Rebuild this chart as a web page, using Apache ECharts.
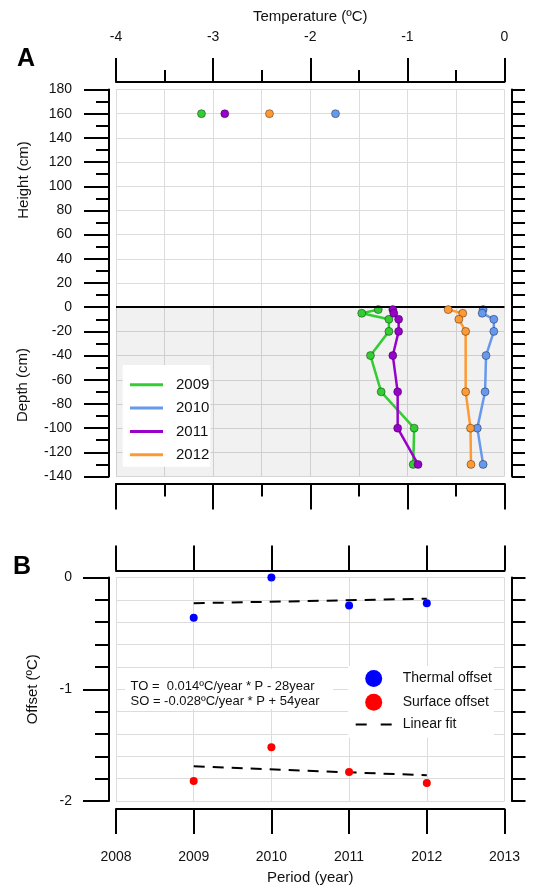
<!DOCTYPE html>
<html><head><meta charset="utf-8">
<script src="https://cdn.jsdelivr.net/npm/echarts@6/dist/echarts.min.js"></script>
<style>html,body{margin:0;padding:0;background:#fff}#c{width:536px;height:886px}</style>
</head><body><div id="c"></div>
<script>
// ---- Panel A data: temperature profiles ----
const seriesNames = ['2009', '2010', '2011', '2012'];
const depths = [-2, -5, -10, -20, -40, -70, -100, -130];
const depths2012 = [-2, -5, -10, -20, -70, -100, -130];
const temp2009 = [-1.30, -1.47, -1.19, -1.19, -1.38, -1.27, -0.93, -0.94];
const temp2010 = [-0.22, -0.23, -0.11, -0.11, -0.19, -0.20, -0.28, -0.22];
const temp2011 = [-1.15, -1.14, -1.09, -1.09, -1.15, -1.10, -1.10, -0.89];
const temp2012 = [-0.58, -0.43, -0.47, -0.40, -0.40, -0.35, -0.345];
const airHeight = 160;
const airTemp = [-3.12, -1.74, -2.88, -2.42]; // 2009, 2010, 2011, 2012
const groundLevel = 0;

// ---- Panel B data: offsets ----
const periodYears = [2009, 2010, 2011, 2012];
const thermalOffset = [-0.36, 0.00, -0.25, -0.23];
const surfaceOffset = [-1.82, -1.52, -1.74, -1.84];
const fitYears = [2009, 2012];
const thermalFit = [-0.23, -0.19];
const surfaceFit = [-1.69, -1.77];
const equationLines = ['TO =  0.014ºC/year * P - 28year', 'SO = -0.028ºC/year * P + 54year'];

const colors = ['#33cc33', '#6699ee', '#9900cc', '#ff9933'];
const FONT = 'Liberation Sans, Arial, sans-serif';
const TXT = '#111';
const GRID = '#dcdcdc';
const zip = (xs, ys) => xs.map((x, i) => [x, ys[i]]);
const pairsT = (ts, ds) => ts.map((t, i) => [t, ds[i]]);

const blk = { color: '#000', width: 2 };
function axis(o) {
  const base = {
    type: 'value',
    axisLine: { show: true, onZero: false, lineStyle: blk },
    axisTick: { show: true, length: 24, lineStyle: blk },
    axisLabel: { show: false, fontSize: 14, color: TXT, fontFamily: FONT },
    splitLine: { show: false, lineStyle: { color: GRID, width: 1 } },
    minorSplitLine: { show: false, lineStyle: { color: GRID, width: 1 } },
    nameTextStyle: { fontSize: 15, color: TXT, fontFamily: FONT }
  };
  const r = Object.assign({}, base, o);
  ['axisLine', 'axisTick', 'axisLabel', 'splitLine', 'minorSplitLine', 'nameTextStyle'].forEach(k => {
    if (o[k]) r[k] = Object.assign({}, base[k], o[k]);
  });
  return r;
}
const minor = (n, len) => ({ show: true, splitNumber: n, length: len, lineStyle: blk });

const profiles = [temp2009, temp2010, temp2011, temp2012];
const profileDepths = [depths, depths, depths, depths2012];

const series = [];
profiles.forEach((t, i) => {
  const s = {
    name: seriesNames[i], type: 'line', xAxisIndex: 0, yAxisIndex: 0,
    data: pairsT(t, profileDepths[i]),
    symbol: 'circle', symbolSize: 8,
    lineStyle: { color: colors[i], width: 2.5 },
    itemStyle: { color: colors[i], borderColor: 'rgba(0,0,0,0.55)', borderWidth: 0.7, opacity: 1 },
    z: 3 + i
  };
  if (i === 0) {
    s.markArea = { silent: true, itemStyle: { color: 'rgba(0,0,0,0.055)' },
      data: [[{ yAxis: -140 }, { yAxis: groundLevel }]] };
    s.markLine = { silent: true, symbol: 'none', label: { show: false },
      lineStyle: { color: '#000', width: 2, type: 'solid' },
      data: [{ yAxis: groundLevel }] };
  }
  series.push(s);
});
airTemp.forEach((t, i) => {
  series.push({
    name: seriesNames[i], type: 'scatter', xAxisIndex: 0, yAxisIndex: 0,
    data: [[t, airHeight]], symbolSize: 8,
    itemStyle: { color: colors[i], borderColor: 'rgba(0,0,0,0.55)', borderWidth: 0.7, opacity: 1 }, z: 5
  });
});
series.push({ name: 'Linear fit', type: 'line', xAxisIndex: 2, yAxisIndex: 2, data: zip(fitYears, thermalFit),
  symbol: 'none', lineStyle: { color: '#000', width: 2, type: [11, 8] }, itemStyle: { color: '#000' }, z: 3 });
series.push({ name: 'Linear fit', type: 'line', xAxisIndex: 2, yAxisIndex: 2, data: zip(fitYears, surfaceFit),
  symbol: 'none', lineStyle: { color: '#000', width: 2, type: [11, 8] }, itemStyle: { color: '#000' }, z: 3 });
series.push({ name: 'Thermal offset', type: 'scatter', xAxisIndex: 2, yAxisIndex: 2, data: zip(periodYears, thermalOffset),
  symbolSize: 8, itemStyle: { color: '#0000ff', opacity: 1 }, z: 4 });
series.push({ name: 'Surface offset', type: 'scatter', xAxisIndex: 2, yAxisIndex: 2, data: zip(periodYears, surfaceOffset),
  symbolSize: 8, itemStyle: { color: '#ff0000', opacity: 1 }, z: 4 });

const option = {
  animation: false,
  backgroundColor: '#fff',
  textStyle: { fontFamily: FONT },
  grid: [
    { left: 116, top: 89.5, width: 388.5, height: 387, outerBoundsMode: 'none', containLabel: false },
    { left: 116, top: 577.5, width: 388.5, height: 223.5, outerBoundsMode: 'none', containLabel: false }
  ],
  xAxis: [
    axis({ gridIndex: 0, position: 'top', min: -4, max: 0, interval: 1, offset: 7.5,
      minorTick: minor(2, 12), axisLabel: { show: true, margin: 38 },
      splitLine: { show: true }, minorSplitLine: { show: true },
      name: 'Temperature (ºC)', nameLocation: 'middle', nameGap: 58 }),
    axis({ gridIndex: 0, position: 'bottom', min: -4, max: 0, interval: 1, offset: 7,
      axisTick: { length: 26 }, minorTick: minor(2, 13) }),
    axis({ gridIndex: 1, position: 'top', min: 2008, max: 2013, interval: 1, offset: 7,
      axisTick: { length: 25 }, splitLine: { show: true } }),
    axis({ gridIndex: 1, position: 'bottom', min: 2008, max: 2013, interval: 1, offset: 8,
      axisTick: { length: 25 }, axisLabel: { show: true, margin: 41, formatter: v => String(v) },
      name: 'Period (year)', nameLocation: 'middle', nameGap: 61 })
  ],
  yAxis: [
    axis({ gridIndex: 0, position: 'left', min: -140, max: 180, interval: 20, offset: 7,
      axisTick: { length: 25 }, minorTick: minor(2, 13),
      axisLabel: { show: true, margin: 37 }, splitLine: { show: true } }),
    axis({ gridIndex: 0, position: 'right', min: -140, max: 180, interval: 10, offset: 7.5,
      axisTick: { length: 13 } }),
    axis({ gridIndex: 1, position: 'left', min: -2, max: 0, interval: 1, offset: 7,
      axisTick: { length: 26 }, minorTick: minor(5, 14),
      axisLabel: { show: true, margin: 37 }, splitLine: { show: true }, minorSplitLine: { show: true },
      name: 'Offset (ºC)', nameLocation: 'middle', nameGap: 69 }),
    axis({ gridIndex: 1, position: 'right', min: -2, max: 0, interval: 1, offset: 7,
      axisTick: { length: 14 }, minorTick: minor(5, 14) })
  ],
  legend: [
    { data: seriesNames.map(n => ({ name: n, icon: 'rect' })), orient: 'vertical',
      left: 122.7, top: 365, itemWidth: 33, itemHeight: 3, itemGap: 8.3,
      itemStyle: { borderWidth: 0 },
      backgroundColor: '#fff', padding: [12.3, 1, 4.5, 7.3],
      textStyle: { fontSize: 15, color: TXT, fontFamily: FONT, padding: [0, 0, 0, 8] },
      selectedMode: false },
    { data: [{ name: 'Thermal offset', icon: 'circle' }, { name: 'Surface offset', icon: 'circle' },
             { name: 'Linear fit', itemStyle: { opacity: 0 }, lineStyle: { type: [11, 14], width: 2, color: '#000' } }],
      orient: 'vertical', left: 348, top: 666, itemWidth: 36, itemHeight: 17, itemGap: 6.7,
      backgroundColor: '#fff', padding: [4, 2, 6, 6.7],
      textStyle: { fontSize: 14, color: TXT, fontFamily: FONT, padding: [0, 0, 0, 6] },
      selectedMode: false }
  ],
  graphic: [
    { type: 'text', x: 26, y: 59, z: 100, style: { text: 'A', font: 'bold 25px ' + FONT, fill: '#000', align: 'center', verticalAlign: 'middle' } },
    { type: 'text', x: 22, y: 567, z: 100, style: { text: 'B', font: 'bold 25px ' + FONT, fill: '#000', align: 'center', verticalAlign: 'middle' } },
    { type: 'text', x: 24, y: 180, rotation: Math.PI / 2, z: 100, style: { text: 'Height (cm)', font: '15px ' + FONT, fill: TXT, align: 'center', verticalAlign: 'middle' } },
    { type: 'text', x: 23, y: 385, rotation: Math.PI / 2, z: 100, style: { text: 'Depth (cm)', font: '15px ' + FONT, fill: TXT, align: 'center', verticalAlign: 'middle' } },
    { type: 'rect', z: 99, shape: { x: 125, y: 669, width: 208, height: 40 }, style: { fill: '#fff' } },
    { type: 'text', x: 130.5, y: 686, z: 100, style: { text: equationLines[0], font: '13px ' + FONT, fill: TXT, align: 'left', verticalAlign: 'middle' } },
    { type: 'text', x: 130.5, y: 701, z: 100, style: { text: equationLines[1], font: '13px ' + FONT, fill: TXT, align: 'left', verticalAlign: 'middle' } }
  ],
  series: series
};
const chart = echarts.init(document.getElementById('c'), null, { renderer: 'canvas' });
chart.setOption(option);
</script></body></html>
